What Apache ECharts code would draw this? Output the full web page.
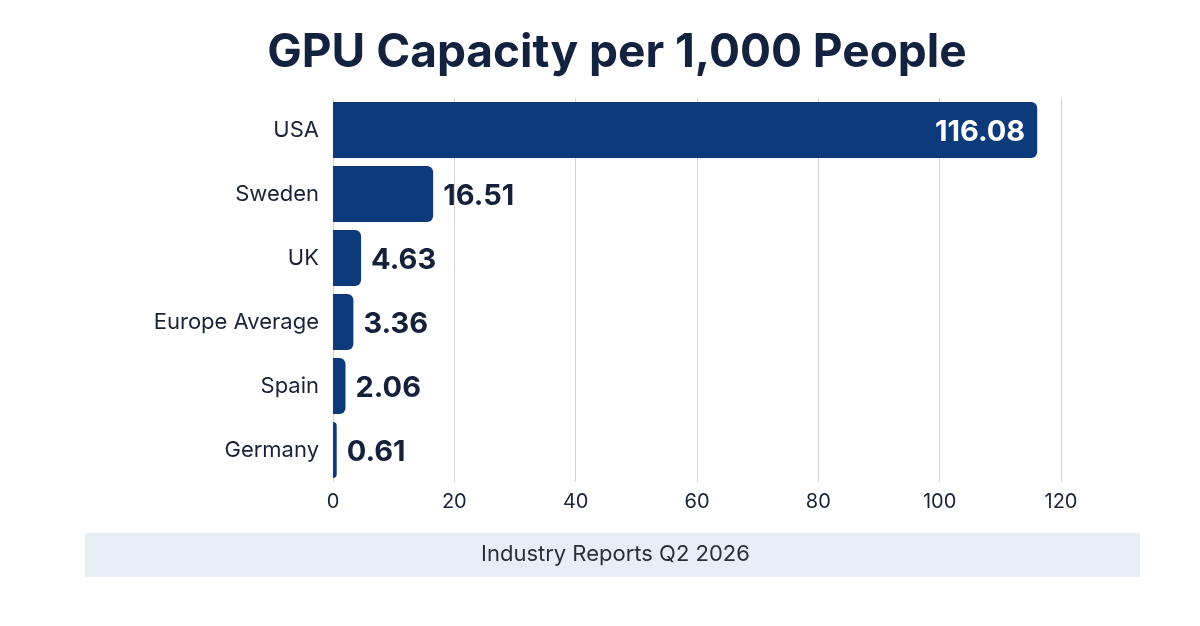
<!DOCTYPE html>
<html style="height:100%">
<head>
<meta charset="utf-8" />
<title>GPU Capacity per 1,000 People</title>
<script src="https://cdn.jsdelivr.net/npm/echarts@6/dist/echarts.min.js"></script>
</head>
<body style="margin:0;height:100%;width:100%;background:#fff">
<div id="chartmain" style="width:1200px;height:626px;"></div>
<script type="text/javascript">
    var countries = ['USA', 'Sweden', 'UK', 'Europe Average', 'Spain', 'Germany'];
    var gpuPer1000 = [116.08, 16.51, 4.63, 3.36, 2.06, 0.61];
    var xTicks = [0, 20, 40, 60, 80, 100, 120];

    var FONT = 'Inter, "Open Sans", sans-serif';
    var NAVY = '#0c3a7a';

    // the first bar is long enough to carry its label inside
    var barData = gpuPer1000.map(function (v, i) {
        var item = { value: v };
        if (i === 0) {
            item.label = { position: 'insideRight', color: '#ffffff', distance: 12 };
        }
        return item;
    });

    var myChart = echarts.init(document.getElementById('chartmain'));
    var option = {
        backgroundColor: '#ffffff',
        animation: false,
        title: {
            text: 'GPU Capacity per 1,000 People',
            left: 612,
            top: 25,
            textAlign: 'center',
            textStyle: {
                fontFamily: FONT,
                fontSize: 46,
                fontWeight: 'bold',
                color: '#13223f'
            }
        },
        grid: {
            left: 333,
            right: 139,
            top: 98,
            bottom: 144,
            containLabel: false
        },
        xAxis: {
            type: 'value',
            min: xTicks[0],
            max: xTicks[xTicks.length - 1],
            interval: xTicks[1] - xTicks[0],
            axisLine: { show: false },
            axisTick: { show: false },
            splitLine: { show: true, lineStyle: { color: '#d4d4d4', width: 1 } },
            axisLabel: {
                margin: 10,
                fontFamily: FONT,
                fontSize: 20,
                color: '#1b2238'
            }
        },
        yAxis: {
            type: 'category',
            inverse: true,
            data: countries,
            axisLine: { show: false },
            axisTick: { show: false },
            axisLabel: {
                margin: 14,
                fontFamily: FONT,
                fontSize: 22,
                color: '#1b2238'
            }
        },
        series: [{
            type: 'bar',
            data: barData,
            barWidth: 56,
            itemStyle: { color: NAVY, borderRadius: [0, 6, 6, 0] },
            label: {
                show: true,
                position: 'right',
                distance: 10,
                offset: [0, 2],
                fontFamily: FONT,
                fontSize: 29,
                fontWeight: 'bold',
                color: '#15213b',
                formatter: function (p) { return p.value.toFixed(2); }
            }
        }],
        graphic: [
            {
                type: 'rect',
                left: 85,
                top: 533,
                shape: { width: 1055, height: 44 },
                style: { fill: '#e9eef5' },
                z: 0
            },
            {
                type: 'text',
                left: 481,
                top: 543,
                style: {
                    text: 'Industry Reports Q2 2026',
                    fontFamily: FONT,
                    fontSize: 22,
                    fill: '#2b2f3a'
                },
                z: 1
            }
        ]
    };
    myChart.setOption(option);
</script>
</body>
</html>
